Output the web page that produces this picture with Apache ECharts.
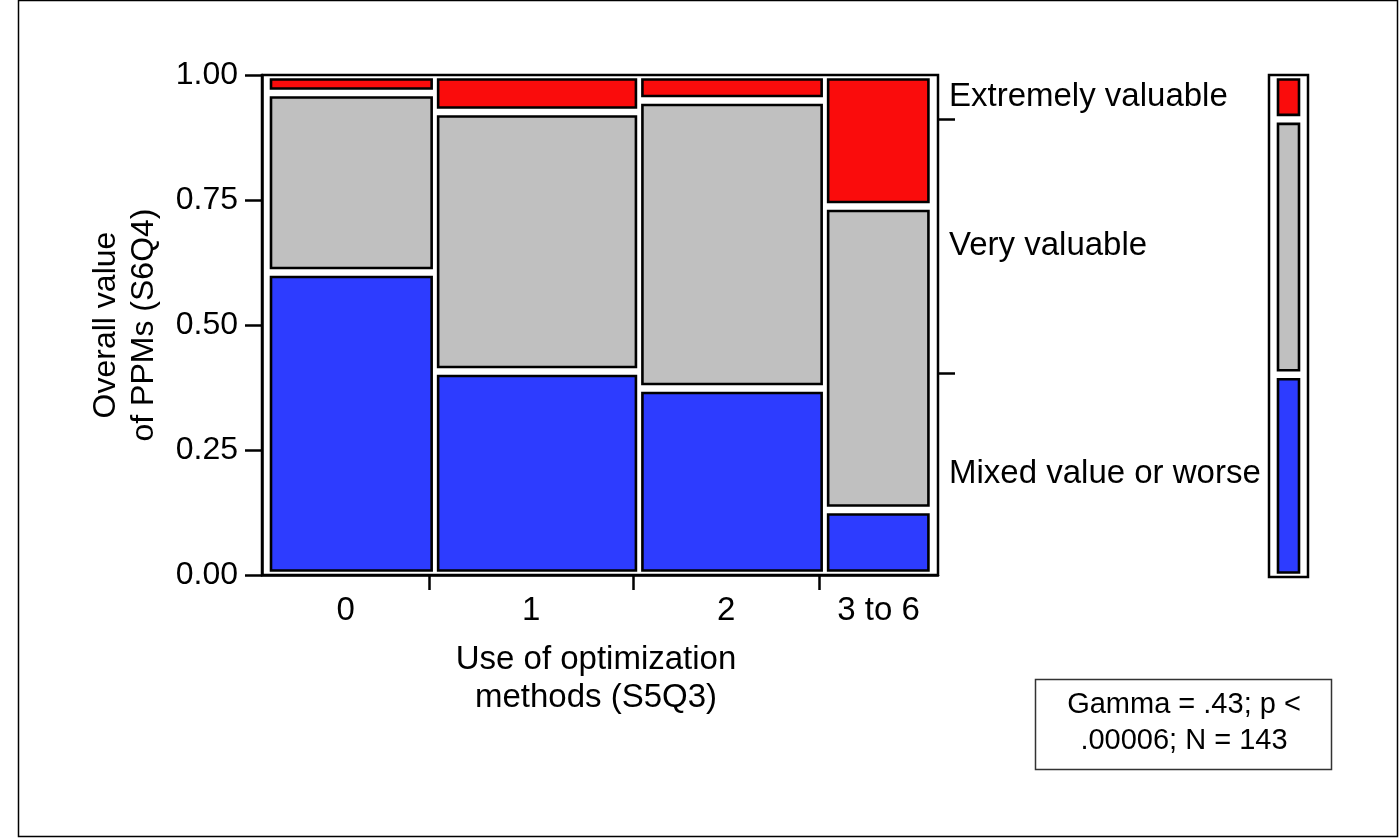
<!DOCTYPE html>
<html>
<head>
<meta charset="utf-8">
<title>Overall value of PPMs by use of optimization methods</title>
<script src="https://cdn.jsdelivr.net/npm/echarts@6/dist/echarts.min.js"></script>
<style>
  html, body { margin: 0; padding: 0; background: #fff; }
  #chart { width: 1399px; height: 838px; }
</style>
</head>
<body>
<div id="chart"></div>
<script>
// Columns: use of optimization methods (S5Q3), with respondents per column
const categories = ['0', '1', '2', '3 to 6'];
const columnCounts = [36, 44, 40, 23];

// Rows: overall value of PPMs (S6Q4), percent of each column (bottom to top)
const levels = ['Mixed value or worse', 'Very valuable', 'Extremely valuable'];
const mixedPct = [60.5, 40.7, 37.3, 13.0];
const veryPct = [35.9, 51.9, 57.6, 60.7];
const extremelyPct = [3.6, 7.4, 5.1, 26.3];

const yTicks = [0, 0.25, 0.5, 0.75, 1];
const statsLines = ['Gamma = .43; p <', '.00006; N = 143'];

const levelColors = ['#2d3cff', '#c0c0c0', '#fa0c0c'];
const FONT = '"Liberation Sans", Arial, Helvetica, sans-serif';

const pctByLevel = [mixedPct, veryPct, extremelyPct];
const total = columnCounts.reduce((a, b) => a + b, 0);

// Column spans along the x axis (in respondents)
const colStart = [];
let acc = 0;
columnCounts.forEach(n => { colStart.push(acc); acc += n; });
const colEnd = colStart.map((s, i) => s + columnCounts[i]);
const xMax = total + 2.6;

// Tile rectangles: [x0, x1, y0, y1] per level and column
const tiles = levels.map(() => []);
categories.forEach((c, i) => {
  let lo = 0;
  pctByLevel.forEach((arr, k) => {
    const hi = lo + arr[i] / 100;
    tiles[k].push([colStart[i], colEnd[i], lo, Math.min(hi, 1)]);
    lo = hi;
  });
});

// Marginal distribution over all respondents
const marginal = pctByLevel.map(arr =>
  arr.reduce((s, p, i) => s + p * columnCounts[i], 0) / total / 100);
const margTiles = [];
let mLo = 0;
marginal.forEach((m, k) => {
  margTiles.push([0, 1, mLo, Math.min(mLo + m, 1)]);
  mLo += m;
});
const margBounds = margTiles.slice(0, -1).map(t => t[3]);
const margMids = margTiles.map(t => (t[2] + t[3]) / 2);

// Tick positions on the category axis
const xTickVals = colEnd.slice(0, -1);
const xLabelVals = categories.map((c, i) =>
  i === categories.length - 1 ? (colStart[i] + xMax) / 2 : (colStart[i] + colEnd[i]) / 2);

function nearestIndex(list, v) {
  let best = 0;
  list.forEach((x, i) => { if (Math.abs(x - v) < Math.abs(list[best] - v)) best = i; });
  return best;
}

function tileRenderer(color, padL, padR, padV) {
  return function (params, api) {
    const a = api.coord([api.value(0), api.value(2)]);
    const b = api.coord([api.value(1), api.value(3)]);
    const x = a[0] + padL;
    const w = b[0] + padR - x;
    const y = b[1] + padV;
    const h = a[1] - padV - y;
    if (w <= 0 || h <= 0) return null;
    return {
      type: 'rect',
      shape: { x: x, y: y, width: w, height: h },
      style: { fill: color, stroke: '#000', lineWidth: 2.6 }
    };
  };
}

const chart = echarts.init(document.getElementById('chart'), null, { renderer: 'canvas' });

const series = [];
levels.forEach((name, k) => {
  series.push({
    type: 'custom', name: name,
    xAxisIndex: 0, yAxisIndex: 0,
    renderItem: tileRenderer(levelColors[k], 9, 2.5, 4.5),
    data: tiles[k], clip: false, silent: true
  });
  series.push({
    type: 'custom', name: name + ' (all)',
    xAxisIndex: 1, yAxisIndex: 2,
    renderItem: tileRenderer(levelColors[k], 9, -9, 4.5),
    data: [margTiles[k]], clip: false, silent: true
  });
});

const option = {
  backgroundColor: '#fff',
  animation: false,
  textStyle: { fontFamily: FONT, color: '#000' },
  grid: [
    { left: 262, top: 75, width: 676, height: 500, show: true,
      borderColor: '#000', borderWidth: 2.5, backgroundColor: 'transparent' },
    { left: 1269, top: 75, width: 39, height: 502, show: true,
      borderColor: '#000', borderWidth: 2.5, backgroundColor: 'transparent' }
  ],
  xAxis: [
    { type: 'value', gridIndex: 0, min: 0, max: xMax,
      axisLine: { show: true, lineStyle: { color: '#000', width: 2.5 } },
      axisTick: { show: true, customValues: xTickVals, length: 15, inside: false,
        lineStyle: { color: '#000', width: 2.5 } },
      axisLabel: { show: true, customValues: xLabelVals, margin: 19,
        fontSize: 33, fontFamily: FONT, color: '#000',
        formatter: v => categories[nearestIndex(xLabelVals, v)] },
      splitLine: { show: false } },
    { type: 'value', gridIndex: 1, min: 0, max: 1, show: false }
  ],
  yAxis: [
    { type: 'value', gridIndex: 0, min: 0, max: 1, interval: 0.25, position: 'left',
      axisLine: { show: true, lineStyle: { color: '#000', width: 2.5 } },
      axisTick: { show: true, length: 17, inside: false, customValues: yTicks,
        lineStyle: { color: '#000', width: 2.5 } },
      axisLabel: { show: true, margin: 24, fontSize: 32, fontFamily: FONT, color: '#000',
        customValues: yTicks, formatter: v => v.toFixed(2) },
      splitLine: { show: false } },
    { type: 'value', gridIndex: 0, min: 0, max: 1, position: 'right',
      axisLine: { show: false },
      axisTick: { show: true, length: 17, inside: false, customValues: margBounds,
        lineStyle: { color: '#000', width: 2.5 } },
      axisLabel: { show: true, margin: 11, fontSize: 33, fontFamily: FONT, color: '#000',
        customValues: margMids, padding: [9, 0, 0, 0],
        formatter: v => levels[nearestIndex(margMids, v)] },
      splitLine: { show: false } },
    { type: 'value', gridIndex: 1, min: 0, max: 1, show: false }
  ],
  series: series,
  graphic: [
    { type: 'rect', shape: { x: 18.5, y: 0.5, width: 1379, height: 836 },
      style: { fill: 'none', stroke: '#000', lineWidth: 1.5 }, silent: true },
    { type: 'text', x: 596, y: 679,
      style: { text: 'Use of optimization\nmethods (S5Q3)', font: '33px ' + FONT,
        fill: '#000', align: 'center', verticalAlign: 'middle', lineHeight: 38 } },
    { type: 'text', x: 125, y: 325, rotation: Math.PI / 2,
      style: { text: 'Overall value\nof PPMs (S6Q4)', font: '32px ' + FONT,
        fill: '#000', align: 'center', verticalAlign: 'middle', lineHeight: 38 } },
    { type: 'rect', shape: { x: 1035.5, y: 679.5, width: 296, height: 90 },
      style: { fill: '#fff', stroke: '#333', lineWidth: 1.5 }, silent: true },
    { type: 'text', x: 1184, y: 723,
      style: { text: statsLines.join('\n'), font: '29px ' + FONT,
        fill: '#000', align: 'center', verticalAlign: 'middle', lineHeight: 36 } }
  ]
};

chart.setOption(option);
</script>
</body>
</html>
